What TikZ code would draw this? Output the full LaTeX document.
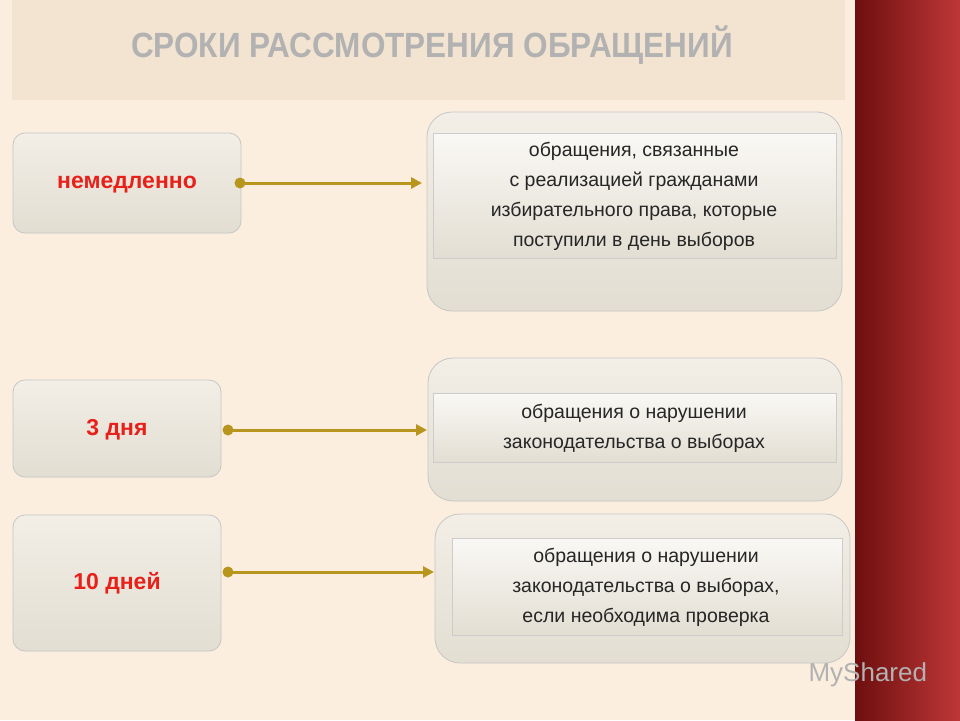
\documentclass[tikz,border=0pt]{standalone}
\usepackage{fontspec}
\setmainfont{Liberation Sans}
\usetikzlibrary{arrows.meta}
\definecolor{bg}{HTML}{FBEEDF}
\definecolor{band}{HTML}{F3E3D1}
\definecolor{olive}{HTML}{B8961E}
\definecolor{redt}{HTML}{E8201A}
\definecolor{boxt}{HTML}{F3EEE6}
\definecolor{boxb}{HTML}{E2DED2}
\tikzset{
 lbox/.style={draw=gray!45, rounded corners=12pt, top color=boxt, bottom color=boxb, line width=0.8pt},
 rbox/.style={draw=gray!45, rounded corners=25pt, top color=boxt, bottom color=boxb, line width=0.8pt},
 inband/.style={draw=gray!40, top color=white!60!boxt, bottom color=boxb, line width=0.6pt},
 ltext/.style={text=redt, font=\bfseries\fontsize{23}{27}\selectfont},
 rtext/.style={align=center, font=\fontsize{19.5}{30}\selectfont, text=black!85},
 conn/.style={draw=olive, line width=3pt, -{Triangle[length=11pt,width=11pt]}},
 dotc/.style={circle, fill=olive, inner sep=0pt, minimum size=11pt}
}
\begin{document}
\begin{tikzpicture}[x=1pt,y=-1pt]
\useasboundingbox (0,0) rectangle (960,720);
\fill[bg] (0,0) rectangle (960,720);
\shade[left color={rgb,255:red,110;green,15;blue,15}, right color={rgb,255:red,190;green,55;blue,55}] (855,0) rectangle (960,720);
\fill[band] (12,0) rectangle (845,100);
\node[font=\bfseries\fontsize{35}{40}\selectfont, text=gray!60, xscale=0.9] (title) at (432,45) {СРОКИ РАССМОТРЕНИЯ ОБРАЩЕНИЙ};
% left boxes
\draw[lbox] (13,133) rectangle (241,233);
\node[ltext] (n1) at (127,185) {немедленно};
\draw[lbox] (13,380) rectangle (221,477);
\node[ltext] (n2) at (117,430) {3 дня};
\draw[lbox] (13,515) rectangle (221,651);
\node[ltext] (n3) at (117,583) {10 дней};
% right boxes
\draw[rbox] (427,112) rectangle (842,311);
\draw[inband] (433,133) rectangle (836,258);
\node[rtext] (r1) at (634,196) {обращения, связанные\\с реализацией гражданами\\избирательного права, которые\\поступили в день выборов};
\draw[rbox] (428,358) rectangle (842,501);
\draw[inband] (433,393) rectangle (836,462);
\node[rtext] (r2) at (634,428) {обращения о нарушении\\законодательства о выборах};
\draw[rbox] (435,514) rectangle (850,663);
\draw[inband] (452,538) rectangle (842,635);
\node[rtext] (r3) at (646,587) {обращения о нарушении\\законодательства о выборах,\\если необходима проверка};
% connectors
\node[dotc] (d1) at (240,183) {};
\coordinate (e1) at (422,183);
\draw[conn] (d1.center) -- (e1);
\node[dotc] (d2) at (228,430) {};
\coordinate (e2) at (427,430);
\draw[conn] (d2.center) -- (e2);
\node[dotc] (d3) at (228,572) {};
\coordinate (e3) at (434,572);
\draw[conn] (d3.center) -- (e3);
\node[font=\fontsize{26}{28}\selectfont, text=gray!60, anchor=west] (wm) at (805,675) {MyShared};
\end{tikzpicture}
\end{document}
